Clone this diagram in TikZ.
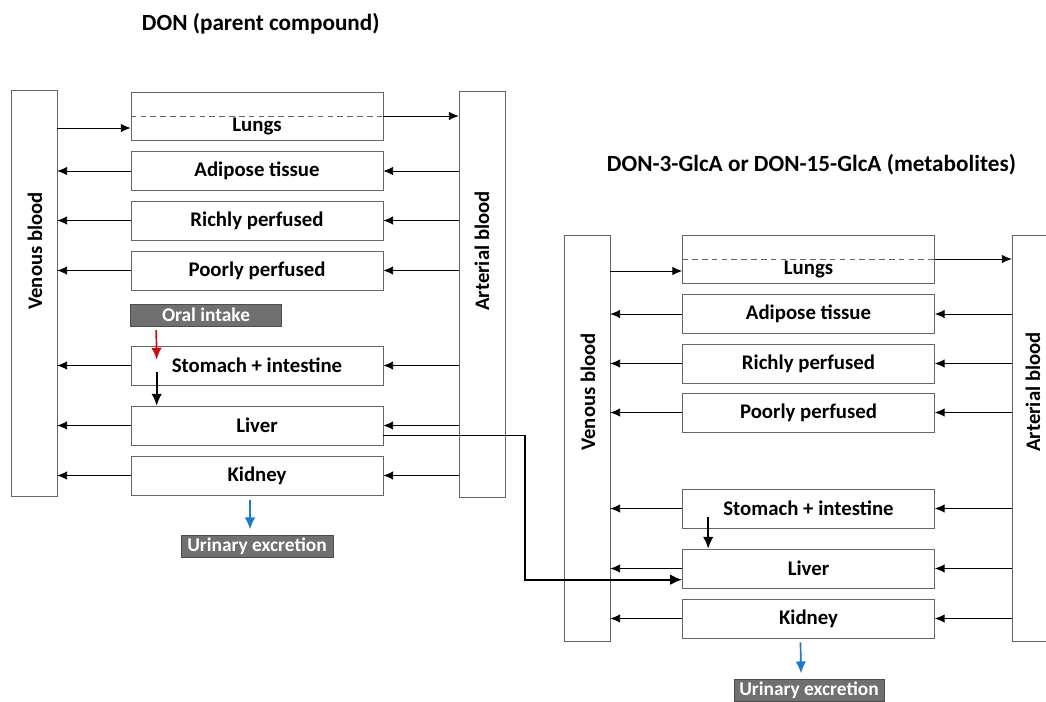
\documentclass[tikz,border=0pt]{standalone}
\usepackage{fontspec}
\setmainfont{Carlito}
\usetikzlibrary{arrows.meta}
\definecolor{urinblue}{RGB}{30,120,205}
\definecolor{oralred}{RGB}{200,16,16}
\definecolor{boxgray}{RGB}{112,112,112}

\begin{document}
\begin{tikzpicture}[x=0.025cm,y=-0.025cm]

		\tikzset{organ/.style = {shape=rectangle,draw=black!60,minimum width=6.3cm,minimum height=0.975cm,inner sep=0pt,font=\bfseries\fontsize{14.8}{17}\selectfont}}
		\tikzset{lungbox/.style = {organ,minimum height=1.2cm}}
		\tikzset{blood/.style = {shape=rectangle,draw=black!60,minimum width=1.15cm,minimum height=10.15cm}}
		\tikzset{bloodtext/.style = {rotate=90,font=\bfseries\fontsize{14.7}{17}\selectfont}}
		\tikzset{route/.style = {shape=rectangle,fill=boxgray,draw=black!70,text=white,minimum height=0.54cm,inner sep=0pt,font=\bfseries\fontsize{13.8}{16}\selectfont}}
		\tikzset{heading/.style = {anchor=west,font=\bfseries\fontsize{16.5}{19}\selectfont}}
		\tikzset{edge/.style = {->,> = {Latex[length=7pt,width=6pt]},line width=0.6pt}}
		\tikzset{gut/.style = {->,> = {Latex[length=8.5pt,width=7.5pt]},line width=1.2pt}}
		\tikzset{oraledge/.style = {gut,oralred}}
		\tikzset{urinedge/.style = {gut,urinblue}}
		\tikzset{link/.style = {gut,line width=1.4pt}}

		\useasboundingbox (0,0) rectangle (1046,702);
		\clip (0,0) rectangle (1046,702);

		% titles
		\node[heading] (title1) at (137,24) {DON (parent compound)};
		\node[heading] (title2) at (602,165) {DON-3-GlcA or DON-15-GlcA (metabolites)};

		% parent compound
		\node[blood] (ven1) at (34,293) {};
		\node[blood] (art1) at (482,294) {};
		\node[bloodtext] (ventxt1) at (35,251) {Venous blood};
		\node[bloodtext] (arttxt1) at (482,251) {Arterial blood};
		\node[lungbox] (lung1) at (257,116) {};
		\node[organ] (lungtxt1) at ([yshift=-0.27cm]lung1.center) [draw=none,minimum height=0pt,minimum width=0pt] {Lungs};
		\node[organ] (adi1) at (257,171) {Adipose tissue};
		\node[organ] (rich1) at (257,220.5) {Richly perfused};
		\node[organ] (poor1) at (257,270.5) {Poorly perfused};
		\node[route,minimum width=3.775cm] (oral1) at (206,315) {Oral intake};
		\node[organ] (stom1) at (257,365.5) {Stomach + intestine};
		\node[organ] (liv1) at (257,425.5) {Liver};
		\node[organ] (kid1) at (257,475.5) {Kidney};
		\node[route,minimum width=3.8cm] (urin1) at (257,546.5) {Urinary excretion};

		% metabolites
		\node[blood] (ven2) at (587,438) {};
		\node[blood] (art2) at (1035,438) {};
		\node[bloodtext] (ventxt2) at (588,392) {Venous blood};
		\node[bloodtext] (arttxt2) at (1033,392) {Arterial blood};
		\node[lungbox] (lung2) at (808.5,259) {};
		\node[organ] (lungtxt2) at ([yshift=-0.27cm]lung2.center) [draw=none,minimum height=0pt,minimum width=0pt] {Lungs};
		\node[organ] (adi2) at (808.5,314) {Adipose tissue};
		\node[organ] (rich2) at (808.5,363.5) {Richly perfused};
		\node[organ] (poor2) at (808.5,412.5) {Poorly perfused};
		\node[organ] (stom2) at (808.5,508.5) {Stomach + intestine};
		\node[organ] (liv2) at (808.5,568.5) {Liver};
		\node[organ] (kid2) at (808.5,618.5) {Kidney};
		\node[route,minimum width=3.75cm] (urin2) at (809,690.5) {Urinary excretion};

		%edges
		\draw[dashed,dash pattern=on 4pt off 3pt,black!60] (lung1.west) -- (lung1.east);
		\coordinate (lin1) at ([yshift=-0.3cm]lung1.west);
		\draw[edge] (lin1 -| ven1.east) -- (lin1);
		\draw[edge] (lung1.east) -- (lung1.east -| art1.west);
		\draw[edge] (adi1.west) -- (adi1.west -| ven1.east);
		\draw[edge] (rich1.west) -- (rich1.west -| ven1.east);
		\draw[edge] (poor1.west) -- (poor1.west -| ven1.east);
		\draw[edge] (stom1.west) -- (stom1.west -| ven1.east);
		\draw[edge] (liv1.west) -- (liv1.west -| ven1.east);
		\draw[edge] (kid1.west) -- (kid1.west -| ven1.east);
		\draw[edge] (adi1.east -| art1.west) -- (adi1.east);
		\draw[edge] (rich1.east -| art1.west) -- (rich1.east);
		\draw[edge] (poor1.east -| art1.west) -- (poor1.east);
		\draw[edge] (stom1.east -| art1.west) -- (stom1.east);
		\draw[edge] (liv1.east -| art1.west) -- (liv1.east);
		\draw[edge] (kid1.east -| art1.west) -- (kid1.east);
		\draw[oraledge] ([xshift=0.65cm,yshift=-0.1cm]oral1.south west) -- ([xshift=0.65cm,yshift=-0.35cm]stom1.north west);
		\draw[gut] ([xshift=0.65cm,yshift=0.325cm]stom1.south west) -- ([xshift=0.65cm]liv1.north west);
		\draw[urinedge] ([xshift=-0.175cm,yshift=-0.125cm]kid1.south) -- ([xshift=-0.175cm,yshift=0.15cm]urin1.north);

		\draw[dashed,dash pattern=on 4pt off 3pt,black!60] (lung2.west) -- (lung2.east);
		\coordinate (lin2) at ([yshift=-0.3cm]lung2.west);
		\draw[edge] (lin2 -| ven2.east) -- (lin2);
		\draw[edge] (lung2.east) -- (lung2.east -| art2.west);
		\draw[edge] (adi2.west) -- (adi2.west -| ven2.east);
		\draw[edge] (rich2.west) -- (rich2.west -| ven2.east);
		\draw[edge] (poor2.west) -- (poor2.west -| ven2.east);
		\draw[edge] (stom2.west) -- (stom2.west -| ven2.east);
		\draw[edge] (liv2.west) -- (liv2.west -| ven2.east);
		\draw[edge] (kid2.west) -- (kid2.west -| ven2.east);
		\draw[edge] (adi2.east -| art2.west) -- (adi2.east);
		\draw[edge] (rich2.east -| art2.west) -- (rich2.east);
		\draw[edge] (poor2.east -| art2.west) -- (poor2.east);
		\draw[edge] (stom2.east -| art2.west) -- (stom2.east);
		\draw[edge] (liv2.east -| art2.west) -- (liv2.east);
		\draw[edge] (kid2.east -| art2.west) -- (kid2.east);
		\draw[gut] ([xshift=0.65cm,yshift=0.275cm]stom2.south west) -- ([xshift=0.65cm]liv2.north west);
		\draw[urinedge] ([xshift=-0.2cm,yshift=-0.1cm]kid2.south) -- ([xshift=-0.2cm,yshift=0.15cm]urin2.north);

		% liver to liver
		\draw[link] ([yshift=-0.25cm]liv1.east) -- ++(3.55cm,0) |- ([yshift=-0.28cm]liv2.west);

\end{tikzpicture}
\end{document}
